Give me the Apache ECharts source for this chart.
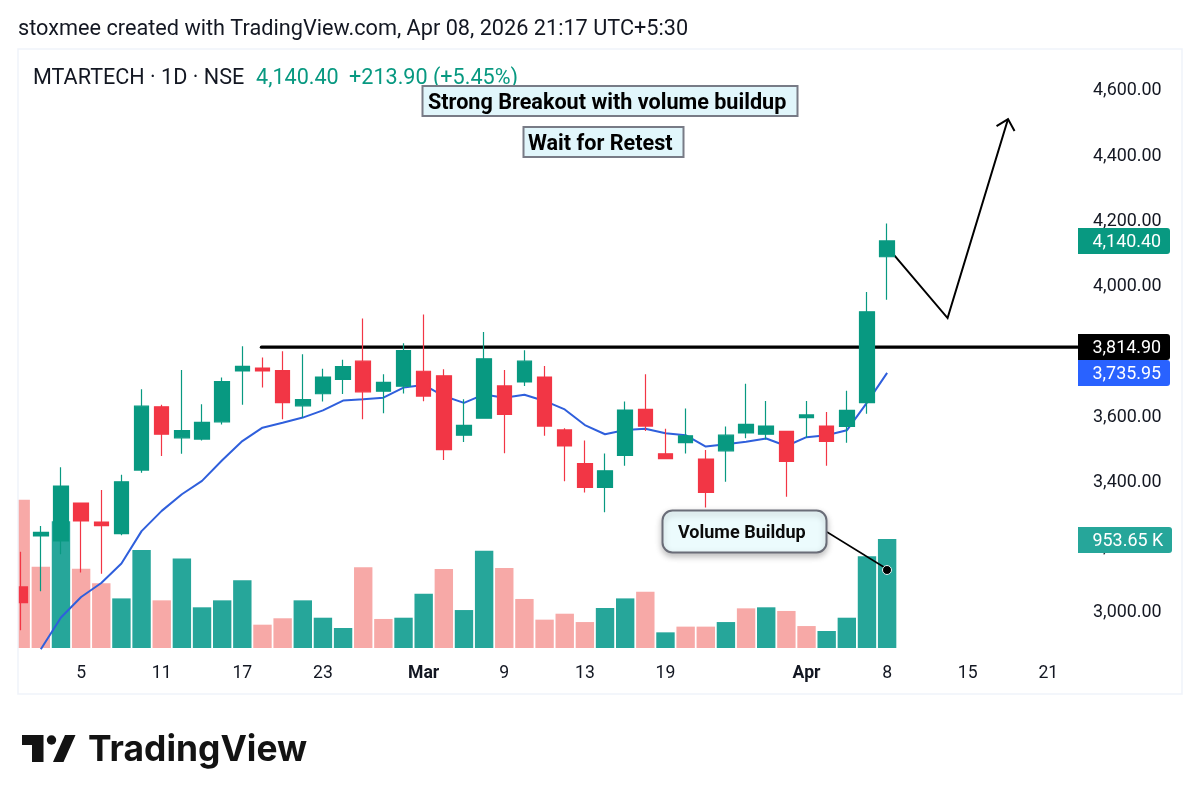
<!DOCTYPE html>
<html>
<head>
<meta charset="utf-8">
<title>MTARTECH</title>
<script src="https://cdn.jsdelivr.net/npm/echarts@6/dist/echarts.min.js"></script>
<style>
html,body{margin:0;padding:0;background:#fff;}
#main{width:1200px;height:804px;}
</style>
</head>
<body>
<div id="main"></div>
<script>
// tick labels under the bars, blank where the chart shows none
var dateLabels = ['','','','5','','','','11','','','','17','','','','23','','','','','Mar','','','','9','','','','13','','','','19','','','','','','','Apr','','','','8','','','','15','','','','21',''];

var opens  = [3080,3236,3221,3337,3279,3243,3438,3632,3537,3533,3586,3742,3751,3743,3635,3672,3716,3772,3680,3695,3741,3727,3545,3597,3696,3708,3723,3561,3458,3385,3483,3624,3488,3522,3472,3497,3552,3548,3557,3599,3573,3572,3645,4092];
var closes = [3032,3247,3389,3282,3268,3402,3634,3548,3559,3584,3709,3756,3742,3645,3654,3723,3755,3678,3707,3804,3665,3501,3575,3779,3609,3772,3573,3512,3385,3436,3622,3573,3473,3543,3370,3545,3578,3573,3465,3607,3526,3621,3923,4140.4];
var lows   = [2947,3067,3180,3124,3120,3238,3430,3481,3488,3529,3578,3638,3691,3594,3599,3648,3671,3594,3612,3673,3649,3469,3524,3597,3490,3696,3543,3404,3369,3309,3451,3558,3471,3489,3323,3402,3536,3532,3356,3537,3451,3522,3611,3960];
var highs  = [3188,3267,3447,3337,3377,3424,3686,3638,3745,3640,3722,3818,3783,3802,3793,3749,3776,3903,3732,3827,3915,3747,3655,3861,3745,3805,3757,3566,3529,3489,3648,3732,3565,3627,3500,3572,3703,3650,3557,3650,3616,3681,3984,4194];
var maValues = [null,2889,2986,3049,3092,3152,3251,3313,3364,3405,3468,3527,3568,3583,3599,3621,3651,3655,3660,3691,3699,3665,3644,3670,3660,3669,3650,3624,3576,3548,3561,3565,3551,3545,3510,3517,3525,3535,3512,3539,3545,3560,3645,3735.95];

// volume in thousands, 1 = close above previous close
var volumes  = [1298,711,1108,694,566,434,857,417,784,356,417,592,204,260,417,265,175,706,254,265,475,691,332,851,700,429,248,300,227,350,434,493,137,187,187,227,347,356,324,192,149,265,802,953.65];
var volumeUp = [0,0,1,0,0,1,1,0,1,1,1,1,0,0,1,1,1,0,0,1,1,0,1,1,0,0,0,0,0,1,1,0,1,0,0,1,0,1,0,0,1,1,1,1];

// drawings, as [bar index, price]
var supportLevel = 3814.9;
var supportStart = 12;
var arrowPath = [[43,4122],[46,3904],[49,4514]];

var priceTags = [
    {value:4140.4, text:'4,140.40', color:'#089981'},
    {value:3814.9, text:'3,814.90', color:'#000000'},
    {value:3735.95, text:'3,735.95', color:'#2962ff'}
];
var volumeTag = {value:953.65, text:'953.65 K', color:'#26a69a'};

var gridLeft = 10.6, gridWidth = 1067.95;
var fontName = 'Roboto';

var myChart = echarts.init(document.getElementById('main'), null, {renderer:'canvas'});

var candleData = opens.map(function(o,i){ return [o,closes[i],lows[i],highs[i]]; });
var volumeData = volumes.map(function(v,i){
    return {value:v, itemStyle:{color:volumeUp[i] ? '#26a69a' : '#f7a9a7'}};
});

function tagShape(api, y, tag){
    return [
        {type:'rect', shape:{x:1078,y:y-13,width:tag===volumeTag?94:92,height:26,r:[0,3,3,0]}, style:{fill:tag.color}},
        {type:'text', style:{text:tag.text,x:1092.5,y:y+1.5,fill:'#fff',font:'17.9px '+fontName,verticalAlign:'middle'}}
    ];
}

var option = {
    animation:false,
    backgroundColor:'#fff',
    grid:[
        {left:gridLeft, width:gridWidth, top:25.75, height:652.5},
        {left:gridLeft, width:gridWidth, top:419.4, height:228.6}
    ],
    xAxis:[
        {type:'category', gridIndex:0, data:dateLabels, axisLine:{show:false}, axisTick:{show:false}, axisLabel:{show:false}, splitLine:{show:false}},
        {type:'category', gridIndex:1, data:dateLabels, axisLine:{show:false}, axisTick:{show:false}, splitLine:{show:false},
            axisLabel:{
                interval:0, margin:17, fontFamily:fontName, fontSize:17.6, color:'#131722',
                formatter:function(v){ return (v==='Mar'||v==='Apr') ? '{b|'+v+'}' : v; },
                rich:{b:{fontFamily:fontName,fontSize:17.6,fontWeight:'bold',color:'#131722'}}
            }}
    ],
    yAxis:[
        {type:'value', gridIndex:0, position:'right', min:2800, max:4800, interval:200, splitLine:{show:false}, axisLine:{show:false}, axisTick:{show:false},
            axisLabel:{
                margin:14.5, fontFamily:fontName, fontSize:17.9, color:'#131722', showMinLabel:false, showMaxLabel:false,
                padding:[6,0,0,0],
                formatter:function(v){ return v.toLocaleString('en-US',{minimumFractionDigits:2,maximumFractionDigits:2}); }
            }},
        {type:'value', gridIndex:1, min:0, max:2000, show:false, splitLine:{show:false}}
    ],
    series:[
        {
            name:'Volume', type:'bar', xAxisIndex:1, yAxisIndex:1, barWidth:18.4, data:volumeData, z:1
        },
        {
            name:'EMA', type:'line', xAxisIndex:0, yAxisIndex:0, data:maValues, showSymbol:false, z:2, smooth:false,
            lineStyle:{color:'#2f5fdc',width:2}
        },
        {
            // support line and projected move
            name:'Drawings', type:'custom', xAxisIndex:0, yAxisIndex:0, data:[0], z:2, clip:false, silent:true,
            renderItem:function(params,api){
                var right = params.coordSys.x + params.coordSys.width;
                var s = api.coord([supportStart,supportLevel]);
                var pts = arrowPath.map(function(p){ return api.coord(p); });
                var tip = pts[2];
                return {type:'group', children:[
                    {type:'line', shape:{x1:s[0]-1,y1:s[1],x2:right-1,y2:s[1]}, style:{stroke:'#000',lineWidth:3.4,lineCap:'round'}},
                    {type:'polyline', shape:{points:pts}, style:{stroke:'#000',lineWidth:2,fill:null}},
                    {type:'polyline', shape:{points:[[tip[0]-11.5,tip[1]+7],tip,[tip[0]+6.5,tip[1]+12]]}, style:{stroke:'#000',lineWidth:2,fill:null}}
                ]};
            }
        },
        {
            name:'MTARTECH', type:'candlestick', xAxisIndex:0, yAxisIndex:0, barWidth:15, data:candleData, z:3,
            itemStyle:{color:'#089981',color0:'#f23645',borderColor:'#089981',borderColor0:'#f23645',borderWidth:1.2}
        },
        {
            // last value tags on the price scale
            name:'Tags', type:'custom', xAxisIndex:0, yAxisIndex:0, data:[0], z:6, clip:false, silent:true,
            renderItem:function(params,api){
                var kids = [];
                priceTags.forEach(function(t){
                    kids = kids.concat(tagShape(api, Math.round(api.coord([0,t.value])[1]), t));
                });
                return {type:'group', children:kids};
            }
        },
        {
            name:'VolumeTag', type:'custom', xAxisIndex:1, yAxisIndex:1, data:[0], z:6, clip:false, silent:true,
            renderItem:function(params,api){
                return {type:'group', children:tagShape(api, Math.round(api.coord([0,volumeTag.value])[1])+1, volumeTag)};
            }
        }
    ],
    graphic:{elements:[
        // hides the part of the first bar left of the pane
        {type:'rect', z:50, shape:{x:0,y:49,width:18,height:600}, style:{fill:'#fff'}},
        {type:'rect', z:51, silent:true, shape:{x:18,y:49,width:1164,height:645}, style:{fill:'none',stroke:'#f0f3fa',lineWidth:1.5}},

        {type:'text', z:60, style:{text:'stoxmee created with TradingView.com, Apr 08, 2026 21:17 UTC+5:30',x:18,y:30,fill:'#131722',font:'21.7px '+fontName,verticalAlign:'middle'}},
        {type:'text', z:60, style:{text:'MTARTECH · 1D · NSE',x:33,y:79,fill:'#131722',font:'21.6px '+fontName,verticalAlign:'middle'}},
        {type:'text', z:60, style:{text:'4,140.40',x:256,y:79,fill:'#089981',font:'21.6px '+fontName,verticalAlign:'middle'}},
        {type:'text', z:60, style:{text:'+213.90 (+5.45%)',x:349,y:79,fill:'#089981',font:'21.6px '+fontName,verticalAlign:'middle'}},

        {type:'rect', z:61, shape:{x:422.5,y:86,width:375,height:30}, style:{fill:'#e1f6fb',stroke:'#787b86',lineWidth:2}},
        {type:'text', z:62, style:{text:'Strong Breakout with volume buildup',x:428,y:103.5,fill:'#000',font:'bold 21.6px '+fontName,verticalAlign:'middle'}},
        {type:'rect', z:61, shape:{x:523.5,y:127,width:160,height:30}, style:{fill:'#e1f6fb',stroke:'#787b86',lineWidth:2}},
        {type:'text', z:62, style:{text:'Wait for Retest',x:528,y:144.5,fill:'#000',font:'bold 21.6px '+fontName,verticalAlign:'middle'}},

        {type:'line', z:61, shape:{x1:827,y1:532,x2:887,y2:569}, style:{stroke:'#000',lineWidth:1.5}},
        {type:'circle', z:62, shape:{cx:887,cy:570,r:4.5}, style:{fill:'#000',stroke:'#e8f7f6',lineWidth:1}},
        {type:'rect', z:61, shape:{x:662.5,y:510.5,width:164,height:42,r:10}, style:{fill:'#ecfbfd',stroke:'#6a6d78',lineWidth:2,shadowBlur:6,shadowColor:'rgba(0,0,0,0.25)',shadowOffsetY:3}},
        {type:'text', z:62, style:{text:'Volume Buildup',x:678,y:533.5,fill:'#0b0b0b',font:'bold 18px '+fontName,verticalAlign:'middle'}},

        // TradingView mark
        {type:'polygon', z:60, shape:{points:[[22,735],[43.5,735],[43.5,762],[32,762],[32,745],[22,745]]}, style:{fill:'#131313'}},
        {type:'circle', z:60, shape:{cx:51.5,cy:740,r:4.7}, style:{fill:'#131313'}},
        {type:'polygon', z:60, shape:{points:[[65,735],[75.5,735],[63.5,762],[53,762]]}, style:{fill:'#131313'}},
        {type:'text', z:60, style:{text:'TradingView',x:88,y:750,fill:'#131313',font:'700 35.4px Inter',verticalAlign:'middle'}}
    ]}
};
myChart.setOption(option);
window.addEventListener('resize',function(){
    myChart.resize();
})
</script>
</body>
</html>
